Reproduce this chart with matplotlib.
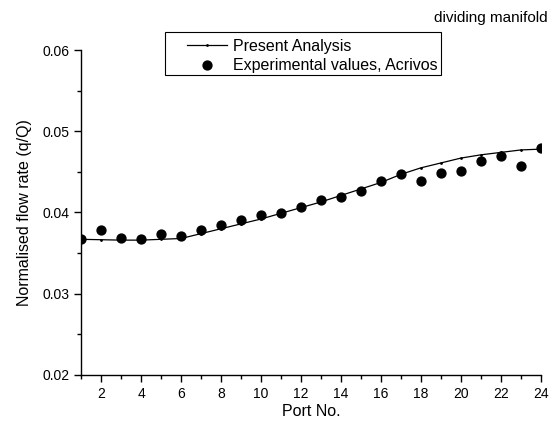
import matplotlib
matplotlib.use("Agg")
import matplotlib.pyplot as plt
from matplotlib.patches import Rectangle

plt.rcParams['font.family'] = ['Liberation Sans', 'DejaVu Sans']

ports = list(range(1, 25))
present = [0.0367, 0.03665, 0.0366, 0.0366, 0.0367, 0.0368, 0.0374, 0.0380,
           0.0386, 0.0392, 0.0399, 0.0406, 0.0413, 0.0421, 0.0429, 0.0437,
           0.0447, 0.0455, 0.0461, 0.0467, 0.0471, 0.0474, 0.0477, 0.0478]
experimental = [0.0367, 0.0379, 0.0369, 0.0367, 0.0373, 0.0371, 0.0379, 0.0385,
                0.0391, 0.0397, 0.0399, 0.0407, 0.0415, 0.0419, 0.0426, 0.0439,
                0.0447, 0.0439, 0.0449, 0.0451, 0.0464, 0.0469, 0.0457, 0.0479]
xticks = list(range(2, 25, 2))
yticks = [0.02, 0.03, 0.04, 0.05, 0.06]

W, H = 553, 423
fig = plt.figure(figsize=(W/100, H/100), dpi=100)
ax = fig.add_axes([81/W, 1-375/H, (541-81)/W, (375-50)/H])

ax.plot(ports, present, '-', color='black', lw=0.9, marker='o', markersize=1.0,
        label='Present Analysis')
ax.plot(ports, experimental, 'o', color='black', markersize=6.4, linestyle='none',
        label='Experimental values, Acrivos')

ax.set_xlim(1, 24)
ax.set_ylim(0.02, 0.06)
ax.set_xticks(xticks)
ax.set_xticks(ports, minor=True)
ax.set_yticks(yticks)
ax.set_yticks([0.025, 0.035, 0.045, 0.055], minor=True)
ax.set_yticklabels([f"{v:.2f}" for v in yticks])
ax.spines['top'].set_visible(False)
ax.spines['right'].set_visible(False)
for s in ['left', 'bottom']:
    ax.spines[s].set_linewidth(1.0)
ax.tick_params(axis='both', which='major', direction='out', length=5, width=1.0,
               labelsize=10, colors='black')
ax.tick_params(axis='both', which='minor', direction='out', length=3, width=1.0)
ax.tick_params(axis='x', pad=4)

ax.set_xlabel('Port No.', fontsize=11.5, labelpad=2)
ax.set_ylabel('Normalised flow rate (q/Q)', fontsize=11.5, labelpad=7)

fig.text(548/W, 1-18/H, 'dividing manifold', ha='right', va='center', fontsize=11)

# legend box frame
fig.add_artist(Rectangle((165/W, 1-75/H), (441-165)/W, (75-32)/H,
                         transform=fig.transFigure, fill=False,
                         edgecolor='black', linewidth=0.8))
leg = fig.legend(loc='upper left', bbox_to_anchor=(187/W, 1-38.5/H), frameon=False,
                 fontsize=11.5, handlelength=2.5, borderpad=0, labelspacing=0.3,
                 handletextpad=0.4, borderaxespad=0)

fig.savefig('out.png', dpi=100)
